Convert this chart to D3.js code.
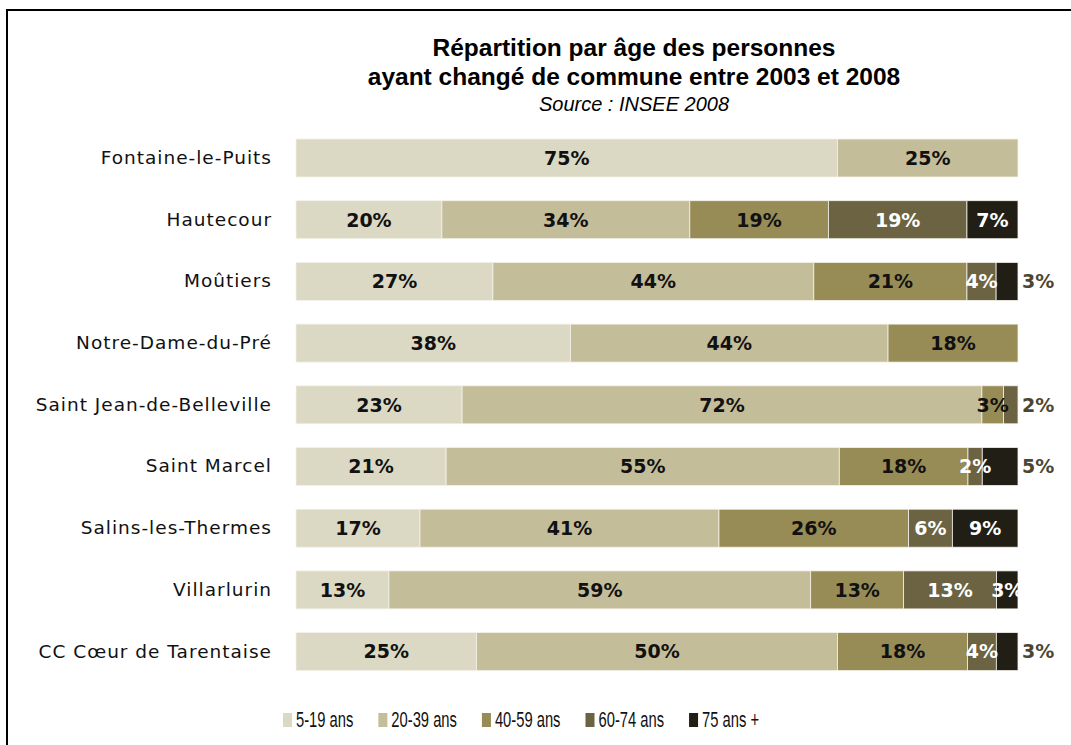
<!DOCTYPE html>
<html lang="fr">
<head>
<meta charset="utf-8">
<script src="https://cdn.jsdelivr.net/npm/d3@7"></script>
<style>
  html, body { margin: 0; padding: 0; background: #fff; }
  svg { display: block; }
</style>
</head>
<body>
<svg id="chart" width="1071" height="745"></svg>
<script>
// Communes (top to bottom)
const communes = [
  "Fontaine-le-Puits",
  "Hautecour",
  "Moûtiers",
  "Notre-Dame-du-Pré",
  "Saint Jean-de-Belleville",
  "Saint Marcel",
  "Salins-les-Thermes",
  "Villarlurin",
  "CC Cœur de Tarentaise"
];

// Age groups
const ageGroups = ["5-19 ans", "20-39 ans", "40-59 ans", "60-74 ans", "75 ans +"];

// Share (%) of each age group, per commune
const age5to19  = [75, 20, 27, 38, 23, 21, 17, 13, 25];
const age20to39 = [25, 34, 44, 44, 72, 55, 41, 59, 50];
const age40to59 = [ 0, 19, 21, 18,  3, 18, 26, 13, 18];
const age60to74 = [ 0, 19,  4,  0,  2,  2,  6, 13,  4];
const age75plus = [ 0,  7,  3,  0,  0,  5,  9,  3,  3];

// Labels printed to the right of the bar instead of inside it
const labelsOutside = [
  ["Moûtiers", "75 ans +"],
  ["Saint Jean-de-Belleville", "60-74 ans"],
  ["Saint Marcel", "75 ans +"],
  ["CC Cœur de Tarentaise", "75 ans +"]
];

const seriesValues = [age5to19, age20to39, age40to59, age60to74, age75plus];
const colors = ["#dbd8c3", "#c4bd99", "#978b56", "#6b6342", "#211f15"];
const textColors = ["#111", "#111", "#111", "#fff", "#fff"];

const rows = communes.map((c, i) => {
  const r = { commune: c };
  ageGroups.forEach((g, k) => { r[g] = seriesValues[k][i]; });
  return r;
});

const svg = d3.select("#chart");

// Frame
svg.append("path")
  .attr("d", "M7,745 V10 H1071")
  .attr("fill", "none")
  .attr("stroke", "#000")
  .attr("stroke-width", 2);

// Title
const title = svg.append("g")
  .attr("text-anchor", "middle")
  .attr("fill", "#000")
  .attr("font-family", "Liberation Sans, Arial, sans-serif");
title.append("text")
  .attr("x", 634).attr("y", 56)
  .attr("font-weight", "bold")
  .attr("font-size", 24.5)
  .text("Répartition par âge des personnes");
title.append("text")
  .attr("x", 634).attr("y", 85)
  .attr("font-weight", "bold")
  .attr("font-size", 24.5)
  .text("ayant changé de commune entre 2003 et 2008");
title.append("text")
  .attr("x", 634).attr("y", 111)
  .attr("font-style", "italic")
  .attr("font-size", 20)
  .text("Source : INSEE 2008");

// Scales
const x = d3.scaleLinear().domain([0, 1]).range([296, 1018]);
const y = d3.scaleBand().domain(communes).range([139, 670.6])
  .paddingInner(0.384).paddingOuter(0);
const color = d3.scaleOrdinal().domain(ageGroups).range(colors);
const textColor = d3.scaleOrdinal().domain(ageGroups).range(textColors);

const stacked = d3.stack()
  .keys(ageGroups)
  .offset(d3.stackOffsetExpand)(rows);

// Category axis
const yAxis = svg.append("g")
  .attr("transform", "translate(290,0)")
  .call(d3.axisLeft(y).tickSize(0).tickPadding(18));
yAxis.select(".domain").remove();
yAxis.selectAll("text")
  .attr("font-family", "DejaVu Sans, sans-serif")
  .attr("font-size", 18.5)
  .attr("letter-spacing", 1)
  .attr("fill", "#111");

// Bars
const layers = svg.append("g").selectAll("g")
  .data(stacked)
  .join("g")
  .attr("fill", d => color(d.key));

layers.selectAll("rect")
  .data(d => d.map(p => Object.assign(p, { key: d.key })))
  .join("rect")
  .attr("x", d => x(d[0]))
  .attr("y", d => y(d.data.commune))
  .attr("width", d => Math.max(0, x(d[1]) - x(d[0])))
  .attr("height", y.bandwidth())
  .attr("stroke", "#f4f2ea")
  .attr("stroke-width", 0.8);

// Value labels
const isOutside = (c, k) => labelsOutside.some(o => o[0] === c && o[1] === k);
const labels = svg.append("g")
  .attr("font-family", "DejaVu Sans, sans-serif")
  .attr("font-weight", "bold")
  .attr("font-size", 19);

stacked.forEach(layer => {
  layer.forEach(p => {
    const v = p.data[layer.key];
    if (!v) return;
    const outside = isOutside(p.data.commune, layer.key);
    labels.append("text")
      .attr("x", outside ? x(1) + 4 : (x(p[0]) + x(p[1])) / 2)
      .attr("y", y(p.data.commune) + y.bandwidth() / 2)
      .attr("dy", "0.36em")
      .attr("text-anchor", outside ? "start" : "middle")
      .attr("fill", outside ? "#4b4632" : textColor(layer.key))
      .text(v + "%");
  });
});

// Legend
const legend = svg.append("g");
let lx = 283;
ageGroups.forEach(g => {
  legend.append("rect")
    .attr("x", lx).attr("y", 713)
    .attr("width", 9).attr("height", 14)
    .attr("fill", color(g));
  const t = legend.append("text")
    .attr("x", lx + 13).attr("y", 727)
    .attr("font-family", "Liberation Sans, Arial, sans-serif")
    .attr("font-size", 22)
    .attr("fill", "#111")
    .text(g);
  const w = t.node().getComputedTextLength() * 0.67;
  t.attr("textLength", w).attr("lengthAdjust", "spacingAndGlyphs");
  lx += 13 + w + 25;
});
</script>
</body>
</html>
